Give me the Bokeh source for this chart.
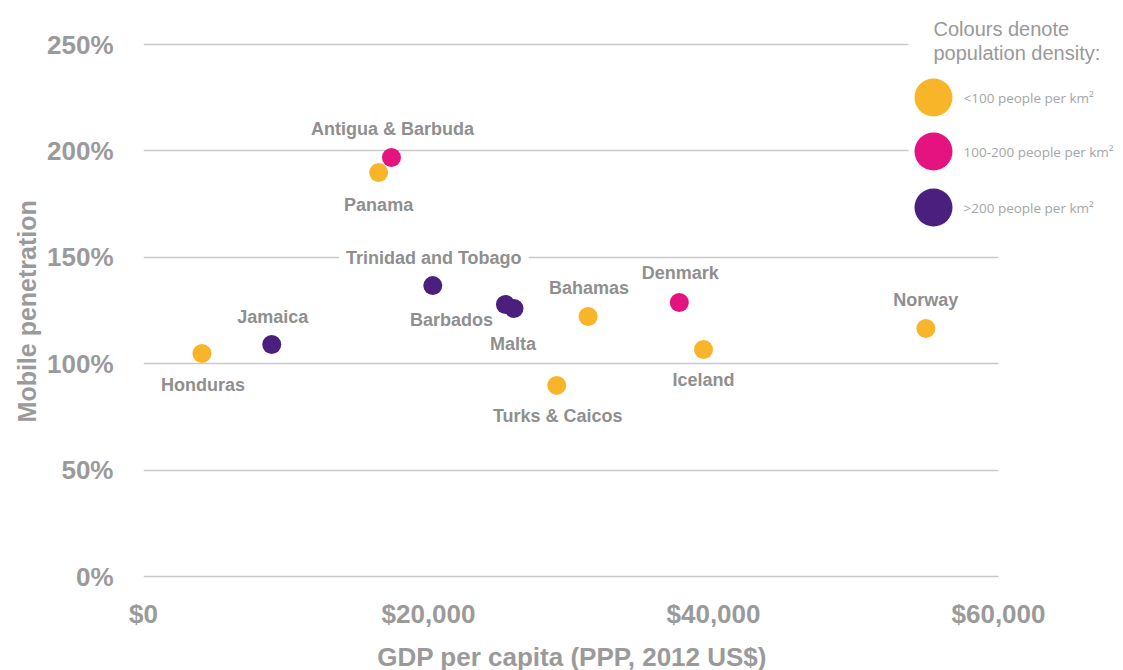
from bokeh.plotting import figure
from bokeh.models import (ColumnDataSource, Range1d, Label, PrintfTickFormatter,
                          NumeralTickFormatter, FixedTicker)
from bokeh.embed import file_html
from bokeh.resources import INLINE

# ---------------- data ----------------
countries = ["Honduras", "Jamaica", "Panama", "Antigua & Barbuda", "Trinidad and Tobago",
             "Barbados", "Malta", "Turks & Caicos", "Bahamas", "Denmark", "Iceland", "Norway"]
gdp_per_capita = [4100, 9000, 16500, 17400, 20300, 25400, 26000, 29000, 31200, 37600, 39300, 54900]
mobile_penetration = [104.8, 109.0, 189.8, 196.9, 136.7, 127.8, 125.9, 89.8, 122.2, 128.8, 106.7, 116.5]
density_class = ["<100", ">200", "<100", "100-200", ">200", ">200", ">200",
                 "<100", "<100", "100-200", "<100", "<100"]

density_categories = ["<100", "100-200", ">200"]
density_labels = ["<100 people per km\u00b2", "100-200 people per km\u00b2", ">200 people per km\u00b2"]
legend_title = ["Colours denote", "population density:"]
y_ticks = [0, 50, 100, 150, 200, 250]
x_ticks = [0, 20000, 40000, 60000]

# ---------------- style / layout ----------------
palette = {"<100": "#F9B52A", "100-200": "#E5137F", ">200": "#4B1F7E"}
GRAY = "#8f8f8f"
FONT = "Liberation Sans"
# label placement (screen-pixel offsets relative to the point)
label_offsets = {
    "Honduras": (1, -32), "Jamaica": (1, 28), "Panama": (0, -32),
    "Antigua & Barbuda": (1, 28), "Trinidad and Tobago": (1, 28),
    "Barbados": (-54, -15), "Malta": (-1, -35), "Turks & Caicos": (1, -31),
    "Bahamas": (1, 28), "Denmark": (1, 29), "Iceland": (0, -31), "Norway": (0, 29),
}
labels_on_grid = {"Trinidad and Tobago"}

W, H = 1123, 670
FL, FB = 143, 580            # frame left / bottom in canvas px (frame reaches top and right edges)
X0_PX, X60_PX = 143, 998     # where $0 and $60,000 sit
Y0_PX, Y250_PX = 576, 44     # where 0% and 250% sit
GRID_END = 998               # gridlines stop here
xs = (X60_PX - X0_PX) / 60000.0
ys = (Y0_PX - Y250_PX) / 250.0
x_range = Range1d(0, (W - X0_PX) / xs)
y_range = Range1d(-(FB - Y0_PX) / ys, (Y0_PX - 0) / ys)

p = figure(width=W, height=H, frame_width=W - FL, frame_height=FB,
           output_backend="svg", toolbar_location=None,
           x_range=x_range, y_range=y_range,
           min_border_left=FL, min_border_right=0,
           min_border_top=0, min_border_bottom=H - FB)
p.outline_line_color = None
p.background_fill_color = "white"
p.border_fill_color = "white"

# pixel-space ranges for the legend layout (frame = canvas px)
p.extra_x_ranges["px"] = Range1d(FL, W)
p.extra_y_ranges["px"] = Range1d(FB, 0)

# grid
p.xgrid.visible = False
p.ygrid.grid_line_color = "#c9c9c9"
p.ygrid.grid_line_width = 1.3
p.ygrid.ticker = FixedTicker(ticks=y_ticks)

# axes
for ax in (p.xaxis[0], p.yaxis[0]):
    ax.axis_line_color = None
    ax.major_tick_line_color = None
    ax.minor_tick_line_color = None
    ax.major_label_text_color = "#9a9a9a"
    ax.major_label_text_font = FONT
    ax.major_label_text_font_style = "bold"
    ax.major_label_text_font_size = "26px"
    ax.axis_label_text_color = "#9a9a9a"
    ax.axis_label_text_font = FONT
    ax.axis_label_text_font_style = "bold"

p.xaxis.ticker = FixedTicker(ticks=x_ticks)
p.xaxis.formatter = NumeralTickFormatter(format="$0,0")
# trailing no-break spaces shift the centred label left, under the 0-60,000 span
p.xaxis.axis_label = "GDP per capita (PPP, 2012 US$)" + "\u00a0" * 17
p.xaxis.axis_label_text_font_size = "26px"
p.xaxis.major_label_standoff = 12
p.xaxis.axis_label_standoff = 10

p.yaxis.ticker = FixedTicker(ticks=y_ticks)
p.yaxis.formatter = PrintfTickFormatter(format="%d%%")
# trailing no-break spaces shift the centred label down to the middle of the 0-250% span
p.yaxis.axis_label = "Mobile penetration" + "\u00a0" * 6
p.yaxis.axis_label_text_font_size = "25px"
p.yaxis.major_label_standoff = 24
p.yaxis.axis_label_standoff = 3

# white masks: gridlines stop at GRID_END and before the legend
p.quad(left=[GRID_END], right=[W + 5], top=[-5], bottom=[FB + 5], fill_color="white",
       line_color=None, x_range_name="px", y_range_name="px")
p.quad(left=[908], right=[GRID_END + 1], top=[-5], bottom=[235], fill_color="white",
       line_color=None, x_range_name="px", y_range_name="px")

# points
src = ColumnDataSource(dict(
    x=gdp_per_capita, y=mobile_penetration, name=countries,
    color=[palette[d] for d in density_class]))
p.scatter("x", "y", source=src, size=19, fill_color="color", line_color=None)

# point labels
for name, gx, my in zip(countries, gdp_per_capita, mobile_penetration):
    dx, dy = label_offsets[name]
    kw = {}
    if name in labels_on_grid:
        kw = dict(background_fill_color="white", padding=7)
    p.add_layout(Label(x=gx, y=my, text=name, x_offset=dx, y_offset=dy,
                       text_align="center", text_baseline="middle",
                       text_font=FONT, text_font_style="bold",
                       text_font_size="18px", text_color=GRAY, **kw))

# legend (layout in canvas px through the "px" ranges)
leg_y = [97, 151, 207]
leg_src = ColumnDataSource(dict(
    x=[933] * 3, y=leg_y,
    color=[palette[c] for c in density_categories], label=density_labels))
p.scatter("x", "y", source=leg_src, size=38, fill_color="color", line_color=None,
          x_range_name="px", y_range_name="px")
for yy, lab in zip(leg_y, density_labels):
    p.add_layout(Label(x=963, y=yy, x_range_name="px", y_range_name="px", text=lab,
                       text_align="left", text_baseline="middle",
                       text_font="Open Sans", text_font_size="13.5px", text_color="#a6a6a6"))
for yy, t in zip([28, 52], legend_title):
    p.add_layout(Label(x=933, y=yy, x_range_name="px", y_range_name="px", text=t,
                       text_align="left", text_baseline="middle",
                       text_font=FONT, text_font_size="20px", text_color="#999999"))

open("out.html", "w").write(file_html(p, INLINE))
